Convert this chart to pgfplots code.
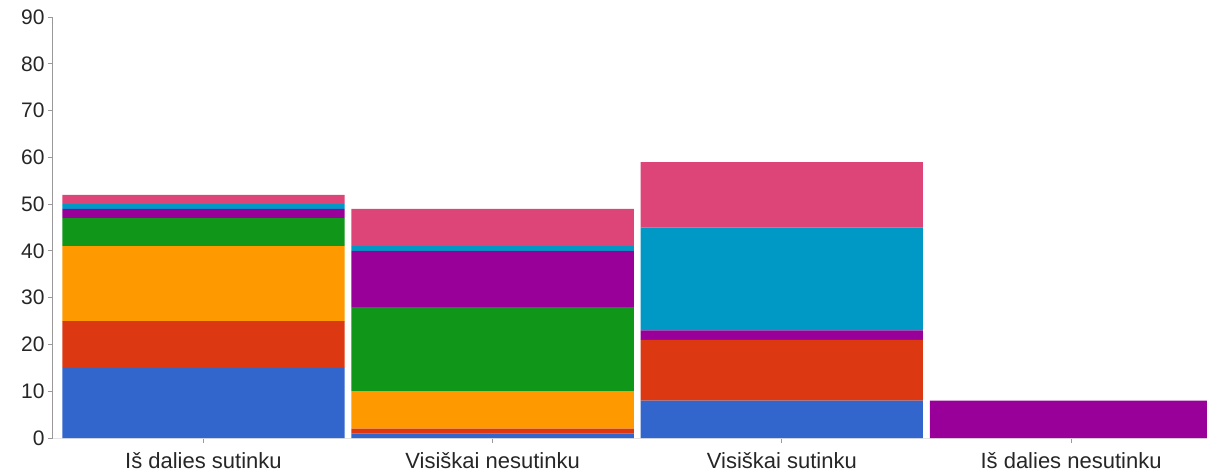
\documentclass[border=0pt]{standalone}
\usepackage{pgfplots}
\pgfplotsset{compat=1.18}
\usepackage{fontspec}
\setmainfont{Liberation Sans}
\definecolor{cblue}{HTML}{3366CC}
\definecolor{cred}{HTML}{DC3912}
\definecolor{corange}{HTML}{FF9900}
\definecolor{cgreen}{HTML}{109618}
\definecolor{cpurple}{HTML}{990099}
\definecolor{ccyan}{HTML}{0099C6}
\definecolor{cpink}{HTML}{DD4477}
\definecolor{axgray}{HTML}{999999}
\begin{document}
\begin{tikzpicture}
\path[use as bounding box] (0,0) rectangle (603.5pt,236.5pt);
\begin{axis}[
  at={(26.5pt,17.5pt)}, anchor=south west,
  scale only axis, width=577pt, height=210.5pt,
  ybar stacked, bar width=0.976,
  xmin=-0.52, xmax=3.47, ymin=0, ymax=90,
  ytick={0,10,...,90},
  xtick={0,1,2,3},
  xticklabels={Iš dalies sutinku, Visiškai nesutinku, Visiškai sutinku, Iš dalies nesutinku},
  axis x line*=bottom, axis y line*=left,
  axis line style={axgray, line width=0.5pt},
  x axis line style={white!80!gray},
  tick style={axgray, line width=0.4pt},
  major tick length=2.5pt, tick align=outside,
  tick label style={text=black!85},
  xticklabel style={font=\fontsize{11}{13}\selectfont, yshift=-1pt},
  yticklabel style={font=\fontsize{10.5}{12}\selectfont, xshift=1.8pt},
  /pgf/number format/assume math mode=true,
  clip=false,
  every axis plot/.append style={draw=none},
]
\addplot[fill=cblue] coordinates {(0,15) (1,1) (2,8) (3,0)};
\addplot[fill=cred] coordinates {(0,10) (1,1) (2,13) (3,0)};
\addplot[fill=corange] coordinates {(0,16) (1,8) (2,0) (3,0)};
\addplot[fill=cgreen] coordinates {(0,6) (1,18) (2,0) (3,0)};
\addplot[fill=cpurple] coordinates {(0,2) (1,12) (2,2) (3,8)};
\addplot[fill=ccyan] coordinates {(0,1) (1,1) (2,22) (3,0)};
\addplot[fill=cpink] coordinates {(0,2) (1,8) (2,14) (3,0)};
\end{axis}
\end{tikzpicture}
\end{document}
